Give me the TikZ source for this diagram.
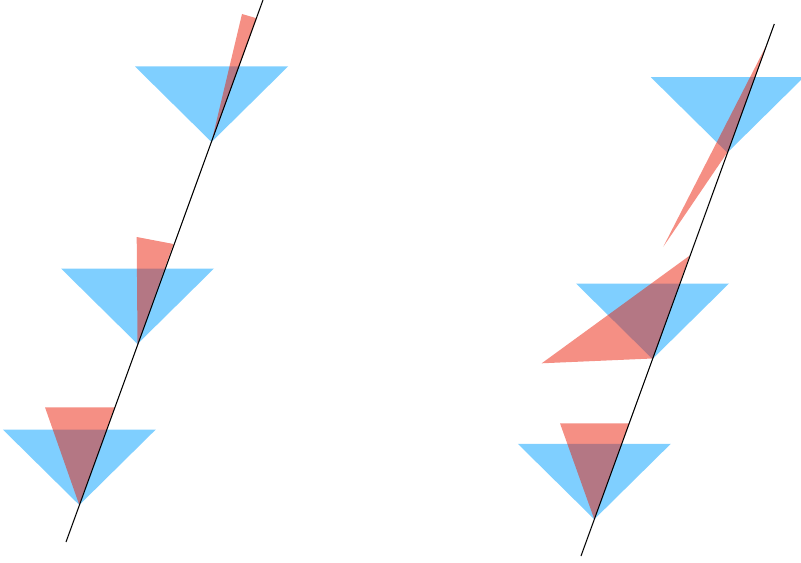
\documentclass[tikz,border=0pt]{standalone}
\usepackage{xcolor}
\definecolor{coneblue}{RGB}{0,160,255}
\definecolor{wedgered}{RGB}{235,31,9}
\usepackage{tikz}
\usetikzlibrary{calc}
\tikzset{
  cone/.style={fill=coneblue, fill opacity=0.5},
  wedge/.style={fill=wedgered, fill opacity=0.5},
  axisline/.style={black, line width=0.9pt}
}
% one blue cone hanging from its apex
\newcommand{\conefrom}[1]{%
  \fill[cone] (#1) -- ++(-76.5,-75.5) -- ++(153,0) -- cycle;}

\begin{document}
\begin{tikzpicture}[x=0.03cm, y=-0.03cm]
\useasboundingbox (0,0) rectangle (801,563);
\clip (0,0) rectangle (801,563);

% ── Apexes on the two axes ─────────────────────────────────────────────────
\coordinate (la1) at (211.5,142);
\coordinate (la2) at (137.5,344);
\coordinate (la3) at (79.3,505);
\coordinate (ra1) at (727.3,152.7);
\coordinate (ra2) at (652.5,359);
\coordinate (ra3) at (594.3,519.3);

% ── Blue cones ─────────────────────────────────────────────────────────────
\foreach \p in {la1,la2,la3,ra1,ra2,ra3}{
  \conefrom{\p}
}

% ── Red wedges, left panel ────────────────────────────────────────────────
\fill[wedge] (la1) -- (242,14) -- (256.7,18.3) -- cycle;
\fill[wedge] (la2) -- (136.7,237) -- (173.5,244) -- cycle;
\fill[wedge] (la3) -- (45,407.3) -- (114.5,407.3) -- cycle;

% ── Red wedges, right panel ───────────────────────────────────────────────
\fill[wedge] (766,46) -- (727.6,152) -- (663.3,246.7) -- cycle;
\fill[wedge] (689.5,255.7) -- (541.7,363.3) -- (652.5,358.5) -- cycle;
\fill[wedge] (ra3) -- (560,423.3) -- (629,423.3) -- cycle;

% ── Axes ─────────────────────────────────────────────────────────────────
\coordinate (lbot) at (66,542);
\coordinate (ltop) at (263,0);
\coordinate (rbot) at (581,556);
\coordinate (rtop) at (774.3,24);
\draw[axisline] (lbot) -- (ltop);
\draw[axisline] (rbot) -- (rtop);

\end{tikzpicture}
\end{document}
